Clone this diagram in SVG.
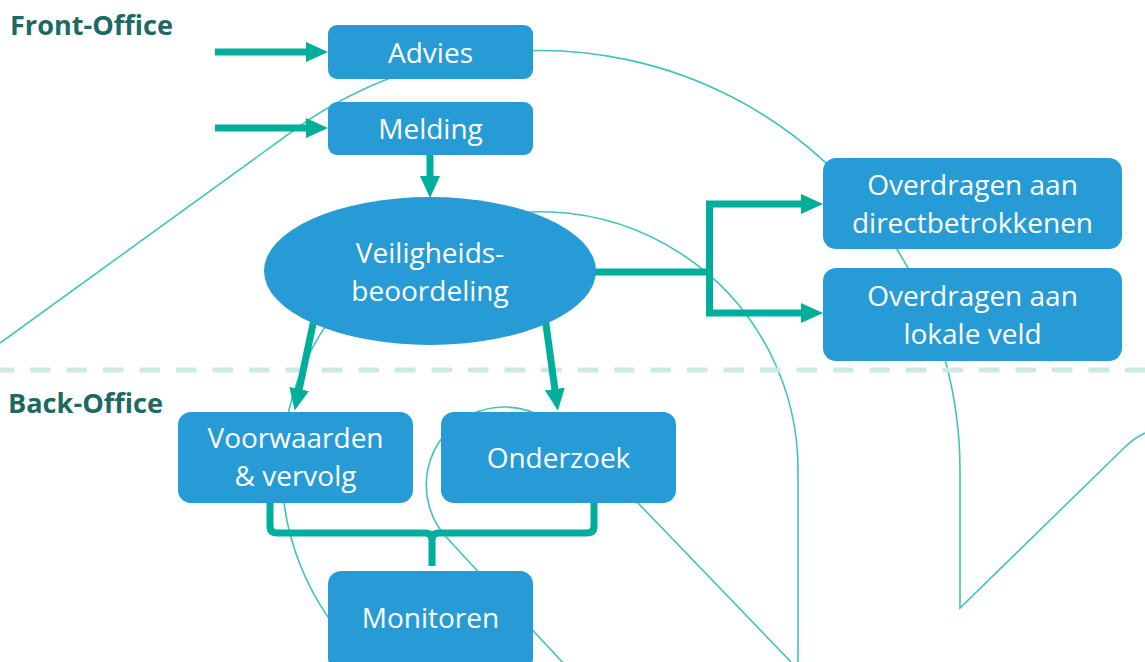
<svg xmlns="http://www.w3.org/2000/svg" width="1145" height="662" viewBox="0 0 1145 662">
<style>
.deco{fill:none;stroke:#3fc4bc;stroke-width:1.6}
.conn{fill:none;stroke:#00ae9c;stroke-width:7;stroke-linejoin:miter}
.box{fill:#279bd6}
.t{font-family:"Open Sans","Noto Sans",sans-serif;font-size:28px;fill:#ffffff;text-anchor:middle}
.lbl{font-family:"Open Sans","Noto Sans",sans-serif;font-size:26px;font-weight:bold;fill:#1c6a63}
</style>
<defs>
<marker id="ah" markerUnits="userSpaceOnUse" markerWidth="22" markerHeight="21" viewBox="0 0 22 20" refX="1" refY="10" orient="auto">
<path d="M0,0 L22,10 L0,20 Z" fill="#00ae9c"/>
</marker>
</defs>
<rect width="1145" height="662" fill="#ffffff"/>
<g id="decor">
<path class="deco" d="M0,343 L297,128 A420,420 0 0 1 960,470 L960,608 L1125,447 Q1134,438 1145,433"/>
<path class="deco" d="M368,662 A258,258 0 1 1 798,470 L798,662"/>
<path class="deco" d="M565,665 L447,538 A78,78 0 1 1 582,479 Q600,490 638,503 L791,662"/>
<line x1="0" y1="370" x2="1145" y2="370" stroke="#cde9e5" stroke-width="5" stroke-dasharray="20.5 16" stroke-dashoffset="6.5"/>
</g>
<g id="labels">
<text class="lbl" x="10" y="35" textLength="163" lengthAdjust="spacingAndGlyphs">Front-Office</text>
<text class="lbl" x="8" y="413" textLength="155" lengthAdjust="spacingAndGlyphs">Back-Office</text>
</g>
<g id="connectors">
<path class="conn" d="M215,52 H307" marker-end="url(#ah)"/>
<path class="conn" d="M215,128 H307" marker-end="url(#ah)"/>
<path class="conn" d="M430,155 V177" marker-end="url(#ah)"/>
<path class="conn" d="M316,310 L299,390" marker-end="url(#ah)"/>
<path class="conn" d="M544,310 L555,390" marker-end="url(#ah)"/>
<path class="conn" d="M590,272 H709.5"/>
<path class="conn" d="M709.5,275 V204 H802" marker-end="url(#ah)"/>
<path class="conn" d="M709.5,270 V313 H802" marker-end="url(#ah)"/>
<path class="conn" d="M270,500 V526 Q270,533 277,533 H425 Q432,533 432,540 V566 M432,540 Q432,533 439,533 H587 Q594,533 594,526 V500"/>
</g>
<g id="advies">
<rect class="box" x="328" y="25" width="205" height="54" rx="9"/>
<text class="t" x="430.5" y="63">Advies</text>
</g>
<g id="melding">
<rect class="box" x="328" y="102" width="205" height="53" rx="9"/>
<text class="t" x="430.5" y="139">Melding</text>
</g>
<g id="veiligheidsbeoordeling">
<ellipse class="box" cx="430" cy="271" rx="166" ry="74"/>
<text class="t" x="430" y="263">Veiligheids-</text>
<text class="t" x="430" y="301">beoordeling</text>
</g>
<g id="overdragen-direct">
<rect class="box" x="823" y="158" width="299" height="91" rx="13"/>
<text class="t" x="972.5" y="195">Overdragen aan</text>
<text class="t" x="972.5" y="233">directbetrokkenen</text>
</g>
<g id="overdragen-lokaal">
<rect class="box" x="823" y="268" width="299" height="93" rx="13"/>
<text class="t" x="972.5" y="306">Overdragen aan</text>
<text class="t" x="972.5" y="344">lokale veld</text>
</g>
<g id="voorwaarden">
<rect class="box" x="178" y="412" width="235" height="91" rx="13"/>
<text class="t" x="295.5" y="448">Voorwaarden</text>
<text class="t" x="295.5" y="486">&amp; vervolg</text>
</g>
<g id="onderzoek">
<rect class="box" x="441" y="412" width="235" height="91" rx="13"/>
<text class="t" x="558.5" y="468">Onderzoek</text>
</g>
<g id="monitoren">
<rect class="box" x="328" y="571" width="205" height="100" rx="13"/>
<text class="t" x="430.5" y="628">Monitoren</text>
</g>
</svg>
